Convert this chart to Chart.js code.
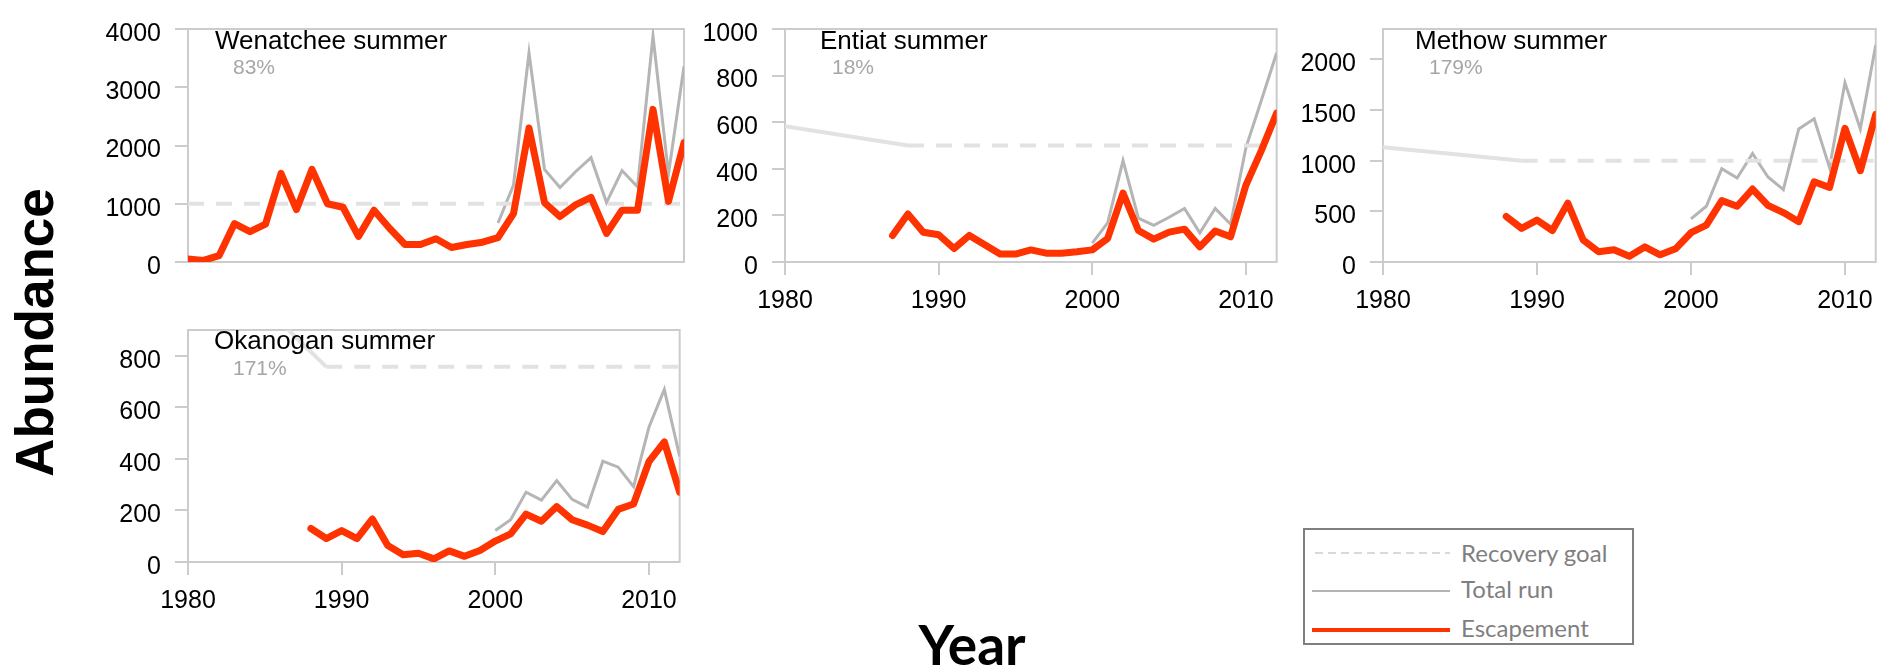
<!DOCTYPE html>
<html>
<head>
<meta charset="utf-8">
<script src="https://cdn.jsdelivr.net/npm/chart.js@4/dist/chart.umd.min.js"></script>
<style>
  html, body { margin: 0; padding: 0; background: #fff; }
  body { width: 1881px; height: 668px; overflow: hidden; position: relative;
         font-family: 'Liberation Sans', Arial, sans-serif; }
  canvas.panel { position: absolute; }
  .ttl { position: absolute; font-size: 26px; line-height: 26px; color: #000; white-space: nowrap; }
  .pct { position: absolute; font-size: 21px; line-height: 21px; color: #a6a6a6; white-space: nowrap; }
  .ylab { position: absolute; left: -116px; top: 306px; width: 300px; height: 53px;
          font: bold 53px/53px 'Liberation Sans', Arial, sans-serif; text-align: center;
          transform: rotate(-90deg); color: #000; }
  .xlab { position: absolute; left: 872px; top: 617px; width: 200px; text-align: center;
          font: bold 55px/55px Lato, 'Open Sans', sans-serif; color: #000; }
  .legend { position: absolute; left: 1303px; top: 528px; width: 327px; height: 113px;
            border: 2px solid #7f7f7f; }
  .lg-line { position: absolute; }
  .lg-text { position: absolute; font: 24px/24px Lato, 'Open Sans', sans-serif; color: #7f7f7f; white-space: nowrap; }
</style>
</head>
<body>
<canvas id="cWen" class="panel"></canvas>
<canvas id="cEnt" class="panel"></canvas>
<canvas id="cMet" class="panel"></canvas>
<canvas id="cOka" class="panel"></canvas>

<div class="ttl" style="left:215px; top:27px;">Wenatchee summer</div>
<div class="pct" style="left:233px; top:56px;">83%</div>
<div class="ttl" style="left:820px; top:27px;">Entiat summer</div>
<div class="pct" style="left:832px; top:56px;">18%</div>
<div class="ttl" style="left:1415px; top:27px;">Methow summer</div>
<div class="pct" style="left:1429px; top:56px;">179%</div>
<div class="ttl" style="left:214px; top:327px;">Okanogan summer</div>
<div class="pct" style="left:233px; top:357px;">171%</div>

<div class="ylab">Abundance</div>
<div class="xlab">Year</div>

<div class="legend"></div>
<div class="lg-line" style="left:1315px; top:552px; width:135px; height:2px;
     background: repeating-linear-gradient(to right, #d9d9d9 0 8px, transparent 8px 13px);"></div>
<div class="lg-line" style="left:1312px; top:590px; width:138px; height:2px; background:#b3b3b3;"></div>
<div class="lg-line" style="left:1312px; top:628px; width:138px; height:4px; background:#ff3300;"></div>
<div class="lg-text" style="left:1461px; top:541px;">Recovery goal</div>
<div class="lg-text" style="left:1461px; top:577px;">Total run</div>
<div class="lg-text" style="left:1461px; top:616px;">Escapement</div>

<script>
// ---- Data -------------------------------------------------------------
// Years with total-run estimates (all populations)
const runYears = [2000, 2001, 2002, 2003, 2004, 2005, 2006, 2007, 2008, 2009, 2010, 2011, 2012];

// Wenatchee summer
const escYearsWenatchee = [1980, 1981, 1982, 1983, 1984, 1985, 1986, 1987, 1988, 1989,
                           1990, 1991, 1992, 1993, 1994, 1995, 1996, 1997, 1998, 1999,
                           2000, 2001, 2002, 2003, 2004, 2005, 2006, 2007, 2008, 2009,
                           2010, 2011, 2012];
const escapementWenatchee = [50, 27, 108, 660, 520, 650, 1520, 900, 1590, 1000,
                             940, 440, 890, 580, 300, 300, 400, 250, 300, 340,
                             420, 830, 2300, 1020, 780, 980, 1110, 490, 890, 890,
                             2620, 1040, 2050];
const totalRunWenatchee = [670, 1320, 3590, 1590, 1280, 1550, 1790, 1020, 1570, 1290, 3880, 1510, 3360];
const goalYearsWenatchee = [1980, 2012];
const goalWenatchee = [1000, 1000];

// Entiat summer
const escYearsEntiat = [1987, 1988, 1989, 1990, 1991, 1992, 1993, 1994, 1995, 1996,
                        1997, 1998, 1999, 2000, 2001, 2002, 2003, 2004, 2005, 2006,
                        2007, 2008, 2009, 2010, 2011, 2012];
const escapementEntiat = [114, 206, 128, 117, 58, 114, 74, 34, 34, 52,
                          38, 38, 44, 52, 101, 296, 135, 98, 128, 141,
                          65, 133, 108, 330, 478, 639];
const totalRunEntiat = [81, 168, 435, 188, 157, 192, 230, 125, 230, 162, 491, 693, 898];
const goalYearsEntiat = [1980, 1988, 2011];
const goalEntiat = [583, 500, 500];

// Methow summer
const escYearsMethow = [1988, 1989, 1990, 1991, 1992, 1993, 1994, 1995, 1996, 1997,
                        1998, 1999, 2000, 2001, 2002, 2003, 2004, 2005, 2006, 2007,
                        2008, 2009, 2010, 2011, 2012];
const escapementMethow = [450, 332, 413, 311, 581, 217, 102, 121, 56, 149,
                          71, 130, 289, 363, 606, 550, 720, 559, 488, 398,
                          792, 736, 1320, 901, 1457];
const totalRunMethow = [425, 550, 922, 829, 1071, 839, 714, 1314, 1413, 932, 1770, 1314, 2143];
const goalYearsMethow = [1980, 1989, 2012];
const goalMethow = [1134, 1000, 1000];

// Okanogan summer
const escYearsOkanogan = [1988, 1989, 1990, 1991, 1992, 1993, 1994, 1995, 1996, 1997,
                          1998, 1999, 2000, 2001, 2002, 2003, 2004, 2005, 2006, 2007,
                          2008, 2009, 2010, 2011, 2012];
const escapementOkanogan = [130, 91, 122, 91, 167, 64, 28, 34, 12, 43,
                            22, 45, 81, 109, 186, 158, 215, 164, 143, 118,
                            204, 225, 389, 466, 271];
const totalRunOkanogan = [122, 164, 271, 240, 316, 243, 213, 391, 368, 292, 523, 669, 410];
const goalYearsOkanogan = [1980, 1989, 2012];
const goalOkanogan = [1280, 757, 757];

// Tick labels
const xTickYears = [1980, 1990, 2000, 2010];
const yTicksWenatchee = [0, 1000, 2000, 3000, 4000];
const yTicksEntiat = [0, 200, 400, 600, 800, 1000];
const yTicksMethow = [0, 500, 1000, 1500, 2000];
const yTicksOkanogan = [0, 200, 400, 600, 800];
// Upper end of each value axis
const yMaxWenatchee = 4000, yMaxEntiat = 1000, yMaxMethow = 2300, yMaxOkanogan = 900;

// ---- Drawing ------------------------------------------------------------
const pairs = (xs, ys) => xs.map((x, i) => ({ x: x, y: ys[i] }));

const AXIS_W = 110;   // space reserved left of each plot for y tick labels
const AXIS_H = 60;    // space reserved under each plot for x tick labels
const PAD_T = 14, PAD_R = 4;
const tickFont = { family: "'Liberation Sans', Arial, sans-serif", size: 25 };
const lineGrey = '#cccccc';

// light box around each plot area
const framePlugin = {
  id: 'frame',
  beforeDatasetsDraw(chart) {
    const { ctx, chartArea: a } = chart;
    ctx.save();
    ctx.strokeStyle = lineGrey;
    ctx.lineWidth = 2;
    ctx.strokeRect(a.left, a.top, a.right - a.left, a.bottom - a.top);
    ctx.restore();
  }
};

function panel(canvasId, area, showX, esc, run, goal, yMax, yTicks) {
  const cv = document.getElementById(canvasId);
  const w = area.R - area.L + AXIS_W + PAD_R;
  const h = area.B - area.T + PAD_T + AXIS_H;
  cv.width = w; cv.height = h;
  cv.style.width = w + 'px'; cv.style.height = h + 'px';
  cv.style.left = (area.L - AXIS_W) + 'px';
  cv.style.top = (area.T - PAD_T) + 'px';

  new Chart(cv, {
    type: 'line',
    data: {
      datasets: [
        { label: 'Escapement', data: esc, borderColor: '#ff3300', borderWidth: 7,
          borderJoinStyle: 'round', borderCapStyle: 'round', pointRadius: 0, tension: 0, clip: 0 },
        { label: 'Recovery goal', data: goal, borderColor: '#e2e2e2', borderWidth: 4,
          borderDash: [16, 12], pointRadius: 0, tension: 0, clip: 0,
          segment: { borderDash: ctx => (goal.length > 2 && ctx.p0DataIndex === 0) ? [] : undefined } },
        { label: 'Total run', data: run, borderColor: '#b5b5b5', borderWidth: 3,
          borderJoinStyle: 'miter', pointRadius: 0, tension: 0, clip: 0 }
      ]
    },
    options: {
      responsive: false,
      animation: false,
      events: [],
      layout: { padding: { left: 0, top: PAD_T, right: PAD_R, bottom: 0 } },
      plugins: { legend: { display: false }, tooltip: { enabled: false } },
      scales: {
        x: {
          type: 'linear', min: 1980, max: 2012,
          afterFit: s => { s.height = AXIS_H; },
          afterBuildTicks: s => { s.ticks = xTickYears.map(v => ({ value: v })); },
          ticks: { display: showX, font: tickFont, color: '#000', padding: 11,
                   maxRotation: 0, autoSkip: false, callback: v => String(v) },
          grid: { display: showX, drawOnChartArea: false, tickLength: 13, color: lineGrey, lineWidth: 2 },
          border: { display: false }
        },
        y: {
          type: 'linear', min: 0, max: yMax,
          afterFit: s => { s.width = AXIS_W; },
          afterBuildTicks: s => { s.ticks = yTicks.map(v => ({ value: v })); },
          ticks: { font: tickFont, color: '#000', autoSkip: false,
                   padding: 14, labelOffset: 5, callback: v => String(v) },
          grid: { drawOnChartArea: false, tickLength: 13, color: lineGrey, lineWidth: 2 },
          border: { display: false }
        }
      }
    },
    plugins: [framePlugin]
  });
}

panel('cWen', { L: 188, T: 14, R: 684, B: 262 }, false,
      pairs(escYearsWenatchee, escapementWenatchee), pairs(runYears, totalRunWenatchee),
      pairs(goalYearsWenatchee, goalWenatchee), yMaxWenatchee, yTicksWenatchee);
panel('cEnt', { L: 785, T: 14, R: 1281, B: 262 }, true,
      pairs(escYearsEntiat, escapementEntiat), pairs(runYears, totalRunEntiat),
      pairs(goalYearsEntiat, goalEntiat), yMaxEntiat, yTicksEntiat);
panel('cMet', { L: 1383, T: 14, R: 1880, B: 262 }, true,
      pairs(escYearsMethow, escapementMethow), pairs(runYears, totalRunMethow),
      pairs(goalYearsMethow, goalMethow), yMaxMethow, yTicksMethow);
panel('cOka', { L: 188, T: 315, R: 684, B: 562 }, true,
      pairs(escYearsOkanogan, escapementOkanogan), pairs(runYears, totalRunOkanogan),
      pairs(goalYearsOkanogan, goalOkanogan), yMaxOkanogan, yTicksOkanogan);
</script>
</body>
</html>
